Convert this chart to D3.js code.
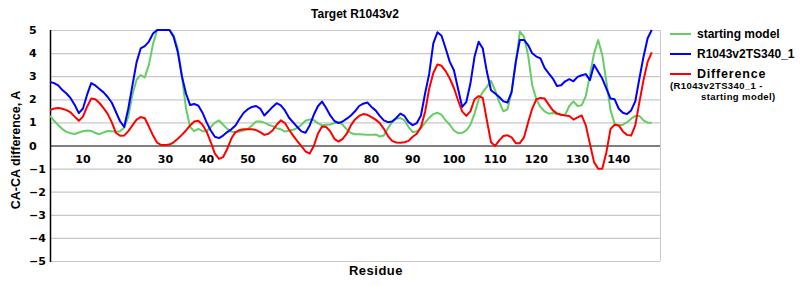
<!DOCTYPE html>
<html>
<head>
<meta charset="utf-8">
<script src="https://cdn.jsdelivr.net/npm/d3@7"></script>
<style>
  body { margin: 0; background: #fff; }
  text { font-family: "Liberation Sans", Arial, sans-serif; font-weight: bold; fill: #000; }
  .tick text { font-family: "DejaVu Sans", Verdana, sans-serif; font-size: 11px; }
</style>
</head>
<body>
<script>
const title = 'Target R1043v2';
const firstResidue = 2;
const xTicks = [10, 20, 30, 40, 50, 60, 70, 80, 90, 100, 110, 120, 130, 140];
const yTicks = [-5, -4, -3, -2, -1, 0, 1, 2, 3, 4, 5];
const seriesNames = ['starting model', 'R1043v2TS340_1', 'Difference'];

// residues 2..148
const startingModel = [
  1.28, 1.07, 0.88, 0.71, 0.59, 0.53, 0.5, 0.56, 0.62, 0.65,
  0.63, 0.54, 0.49, 0.57, 0.63, 0.62, 0.6, 0.62, 0.77, 1.25,
  2.2, 2.85, 3.05, 2.95, 3.5, 4.4, 5, 5, 5, 5,
  4.78, 4.2, 3.0, 1.6, 0.8, 0.62, 0.72, 0.62, 0.62, 0.8,
  0.99, 1.09, 0.9, 0.72, 0.6, 0.58, 0.6, 0.65, 0.72, 0.87,
  1.04, 1.04, 0.99, 0.9, 0.84, 0.75, 0.7, 0.6, 0.65, 0.68,
  0.75, 0.9, 1.07, 1.13, 1.1, 0.97, 0.87, 0.9, 0.91, 0.97,
  1.01, 0.9, 0.7, 0.54, 0.49, 0.49, 0.48, 0.46, 0.46, 0.48,
  0.39, 0.43, 0.75, 1.01, 1.16, 1.19, 1.09, 0.8, 0.58, 0.61,
  0.75, 0.99, 1.2, 1.36, 1.42, 1.33, 1.09, 0.9, 0.65, 0.54,
  0.55, 0.65, 0.9, 1.38, 2.0, 2.32, 2.54, 2.8, 2.39, 1.88,
  1.48, 1.57, 2.32, 3.55, 4.93, 4.71, 3.91, 2.61, 2.0, 1.67,
  1.48, 1.38, 1.41, 1.36, 1.33, 1.33, 1.71, 1.91, 1.71, 1.74,
  2.14, 3.04, 3.99, 4.57, 3.91, 2.75, 1.52, 0.94, 0.87, 0.9,
  1.01, 1.16, 1.28, 1.28, 1.09, 0.99, 0.99,
];

const model = [
  2.75, 2.7, 2.6, 2.4, 2.25, 2.05, 1.75, 1.4, 1.6, 2.2,
  2.7, 2.6, 2.45, 2.3, 2.1, 1.85, 1.45, 1.05, 0.8, 1.6,
  2.6, 3.6, 4.2, 4.3, 4.5, 4.85, 5, 5, 5, 5,
  4.7, 4.05, 3.0, 2.25, 1.75, 1.8, 1.72, 1.42, 1.0, 0.65,
  0.38, 0.32, 0.43, 0.58, 0.7, 0.87, 1.16, 1.42, 1.57, 1.67,
  1.71, 1.6, 1.3, 1.48, 1.67, 1.83, 1.74, 1.52, 1.2, 1.0,
  0.8, 0.61, 0.55, 0.87, 1.33, 1.7, 1.9, 1.62, 1.3, 1.06,
  0.97, 1.04, 1.16, 1.3, 1.48, 1.71, 1.81, 1.86, 1.67, 1.52,
  1.28, 1.09, 1.01, 1.04, 1.19, 1.38, 1.28, 1.01, 0.88, 0.97,
  1.3, 2.25, 3.1, 4.42, 4.9, 4.75, 4.2, 3.62, 3.26, 2.46,
  1.67, 1.88, 2.68, 3.84, 4.49, 4.2, 3.19, 2.39, 2.25, 2.1,
  1.91, 1.86, 2.32, 3.62, 4.57, 4.57, 4.35, 3.99, 3.85, 3.77,
  3.36, 3.12, 2.9, 2.58, 2.61, 2.78, 2.87, 2.78, 2.97, 3.04,
  3.09, 2.83, 3.5, 3.19, 2.9, 2.46, 2.03, 2.0, 1.59, 1.42,
  1.36, 1.52, 1.91, 2.9, 3.84, 4.64, 5,
];

const difference = [
  1.53, 1.6, 1.62, 1.59, 1.53, 1.43, 1.25, 1.07, 1.25, 1.68,
  2.03, 2.0, 1.84, 1.62, 1.37, 1.0, 0.55, 0.42, 0.43, 0.62,
  0.87, 1.12, 1.23, 1.18, 0.82, 0.43, 0.12, 0.02, 0.02, 0.04,
  0.14, 0.29, 0.46, 0.65, 0.87, 1.04, 1.07, 0.9, 0.6, 0.15,
  -0.35, -0.58, -0.5, -0.15, 0.3, 0.58, 0.67, 0.7, 0.7, 0.7,
  0.67, 0.58, 0.46, 0.51, 0.65, 0.9, 1.09, 0.97, 0.68, 0.43,
  0.19, -0.03, -0.26, -0.35, -0.02, 0.51, 0.82, 0.8, 0.61, 0.29,
  0.17, 0.29, 0.51, 0.87, 1.13, 1.28, 1.36, 1.33, 1.23, 1.12,
  0.97, 0.72, 0.41, 0.2, 0.13, 0.12, 0.14, 0.2, 0.38, 0.51,
  0.8, 1.45, 2.46, 3.14, 3.51, 3.45, 3.22, 2.9, 2.49, 1.96,
  1.48, 1.28, 1.48, 2.0, 2.14, 2.06, 1.09, 0.14, -0.02, 0.22,
  0.41, 0.44, 0.35, 0.1, 0.1, 0.35, 1.0, 1.6, 2.0, 2.06,
  2.03, 1.77, 1.52, 1.39, 1.33, 1.3, 1.28, 1.12, 1.22, 1.3,
  0.87, 0.07, -0.72, -1.01, -1.01, -0.29, 0.72, 0.9, 0.87, 0.61,
  0.46, 0.43, 0.87, 1.88, 2.83, 3.62, 4.03,
];

const colors = ['#66cc66', '#0000ff', '#ff0000'];

const width = 800;
const height = 300;
const plot = { left: 50, right: 660, top: 30, bottom: 261 };

const svg = d3.select('body').append('svg')
  .attr('width', width)
  .attr('height', height);

const x = d3.scaleLinear().domain([2, 150]).range([plot.left, plot.right]);
const y = d3.scaleLinear().domain([-5, 5]).range([plot.bottom, plot.top]);

// gridlines
svg.append('g').classed('grid', true)
  .selectAll('line')
  .data(yTicks)
  .enter()
  .append('line')
  .attr('x1', plot.left)
  .attr('x2', plot.right)
  .attr('y1', (d) => y(d) + 0.5)
  .attr('y2', (d) => y(d) + 0.5)
  .style('stroke', (d) => (d === 0 ? '#000' : '#c8c8c8'))
  .style('stroke-width', 1.2);

svg.append('line')
  .attr('x1', plot.right + 0.5).attr('x2', plot.right + 0.5)
  .attr('y1', plot.top).attr('y2', plot.bottom)
  .style('stroke', '#c8c8c8');

svg.append('line')
  .attr('x1', plot.left + 0.5).attr('x2', plot.left + 0.5)
  .attr('y1', plot.top).attr('y2', plot.bottom + 1)
  .style('stroke', '#000')
  .style('stroke-width', 1.5);

// y tick labels, left aligned
const yAxis = svg.append('g').classed('tick', true);
yAxis.selectAll('text')
  .data(yTicks)
  .enter()
  .append('text')
  .attr('x', 29)
  .attr('y', (d) => y(d) + 4)
  .text((d) => d3.format('d')(d));

// x tick labels, sitting under the zero line
const xAxis = svg.append('g').classed('tick', true);
xAxis.selectAll('text')
  .data(xTicks)
  .enter()
  .append('text')
  .attr('x', (d) => x(d))
  .attr('y', y(0) + 17)
  .attr('text-anchor', 'middle')
  .text((d) => d);

// lines
const line = d3.line()
  .x((d, i) => x(firstResidue + i))
  .y((d) => y(d));

[startingModel, model, difference].forEach((s, k) => {
  svg.append('path')
    .datum(s)
    .attr('d', line)
    .style('fill', 'none')
    .style('stroke', colors[k])
    .style('stroke-width', 2)
    .style('stroke-linejoin', 'round');
});

// titles
svg.append('text')
  .attr('x', (plot.left + plot.right) / 2)
  .attr('y', 18)
  .attr('text-anchor', 'middle')
  .style('font-size', '12px')
  .text(title);

svg.append('text')
  .attr('x', 376)
  .attr('y', 275)
  .attr('text-anchor', 'middle')
  .style('font-size', '13px')
  .style('letter-spacing', '0.5px')
  .text('Residue');

svg.append('text')
  .attr('transform', 'translate(20,150) rotate(-90)')
  .attr('text-anchor', 'middle')
  .style('font-size', '12.5px')
  .text('CA-CA difference, A');

// legend
const legend = svg.append('g').classed('legend', true);
const legendY = [34, 54, 74];
legend.selectAll('line')
  .data(seriesNames)
  .enter()
  .append('line')
  .attr('x1', 670)
  .attr('x2', 691)
  .attr('y1', (d, i) => legendY[i])
  .attr('y2', (d, i) => legendY[i])
  .style('stroke', (d, i) => colors[i])
  .style('stroke-width', 2);

legend.selectAll('text.name')
  .data(seriesNames)
  .enter()
  .append('text')
  .classed('name', true)
  .attr('x', 697)
  .attr('y', (d, i) => legendY[i] + 4)
  .style('font-size', (d, i) => (i === 2 ? '12.5px' : '12px'))
  .style('letter-spacing', (d, i) => (i === 2 ? '0.8px' : '0px'))
  .text((d) => d);

legend.append('text')
  .attr('x', 670)
  .attr('y', 89)
  .style('font-size', '9.5px')
  .style('letter-spacing', '0.4px')
  .text('(R1043v2TS340_1 -');

legend.append('text')
  .attr('x', 701)
  .attr('y', 100)
  .style('font-size', '9.5px')
  .style('letter-spacing', '0.4px')
  .text('starting model)');
</script>
</body>
</html>
